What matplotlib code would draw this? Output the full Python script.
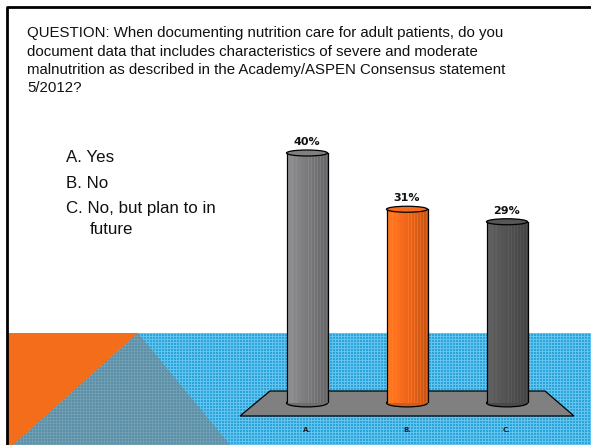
import numpy as np
import matplotlib
matplotlib.use("Agg")
import matplotlib.pyplot as plt
from matplotlib.patches import Polygon, Ellipse
import matplotlib.colors as mcolors

# ---- data ----
categories = ["A.", "B.", "C."]
values = [40, 31, 29]
value_labels = ["40%", "31%", "29%"]
answers = ["A. Yes", "B. No", "C. No, but plan to in", "future"]
question_lines = [
    "QUESTION: When documenting nutrition care for adult patients, do you",
    "document data that includes characteristics of severe and moderate",
    "malnutrition as described in the Academy/ASPEN Consensus statement",
    "5/2012?",
]
bar_colors = ["#7a7a7c", "#ea661c", "#525252"]

W, H = 591, 445
fig = plt.figure(figsize=(W / 100, H / 100), dpi=100)
fig.patch.set_facecolor("white")

# ---- background (pixel coordinates) ----
bg = fig.add_axes([0, 0, 1, 1])
bg.set_xlim(0, W)
bg.set_ylim(H, 0)
bg.axis("off")

# blue textured band
y0 = 333
hh, ww = H - y0, W - 8
tex = np.zeros((hh, ww, 3))
base = np.array(mcolors.to_rgb("#2ba4da"))
light = np.array(mcolors.to_rgb("#62c4ee"))
tex[:] = base
tex[::3, :] = light
tex[:, ::3] = light
bg.imshow(tex, extent=(8, W, H, y0), interpolation="nearest", aspect="auto", zorder=1)

# orange triangle and gray-blue triangle
bg.add_patch(Polygon([(138, y0), (230, H), (13, H)], closed=True,
                     facecolor="#7f7f7f", alpha=0.55, edgecolor="none", zorder=2))
bg.add_patch(Polygon([(8, y0), (138, y0), (13, H), (8, H)], closed=True,
                     facecolor="#f46d1b", edgecolor="none", zorder=3))

# frame lines
bg.plot([7, 7, W], [H, 7, 7], color="black", lw=2.0, solid_capstyle="butt", zorder=5)

# floor of chart
bg.add_patch(Polygon([(270, 391), (545, 391), (574, 416), (240, 416)], closed=True,
                     facecolor="#808080", edgecolor="black", lw=0.9, zorder=4))

# texts
for i, line in enumerate(question_lines):
    bg.text(27, 33 + 18.5 * i, line, fontsize=10.8, family="Liberation Sans",
            va="center", ha="left", color="#111111", zorder=6)
ans_y = [157, 183, 208, 230]
ans_x = [66, 66, 66, 90]
for a, x, y in zip(answers, ans_x, ans_y):
    bg.text(x, y, a, fontsize=12.2, family="Liberation Sans",
            va="center", ha="left", color="#111111", zorder=6)

# ---- bar chart axes ----
px_per_unit = 6.25
base_px = 403
ax = fig.add_axes([257 / W, (H - base_px) / H, 300 / W, 50 * px_per_unit / H])
ax.set_xlim(-0.5, 2.5)
ax.set_ylim(0, 50)
ax.patch.set_alpha(0)
for s in ax.spines.values():
    s.set_visible(False)
ax.set_yticks([])
ax.set_xticks(range(len(categories)))
ax.set_xticklabels(categories, fontsize=5, fontweight="bold", color="#222222")
ax.tick_params(axis="x", length=0, pad=17)

bw = 0.41
eh = 6 / px_per_unit
n = 41
t = np.linspace(0, 1, n)
shade = 1.18 - 0.35 * t
stripe = np.where((np.arange(n) % 3 == 0) & (t > 0.5), 0.12, 0.0)
stripe += np.where((np.arange(n) % 4 == 1) & (t < 0.25), 0.06, 0.0)
for i, (v, c) in enumerate(zip(values, bar_colors)):
    rgb = np.array(mcolors.to_rgb(c))
    row = np.clip(rgb[None, :] * (shade + stripe)[:, None], 0, 1)
    img = np.repeat(row[None, :, :], 2, axis=0)
    # bottom ellipse
    ax.add_patch(Ellipse((i, 0), bw, eh * 1.3, facecolor=tuple(rgb * 0.9), edgecolor="black",
                         lw=0.9, zorder=3, clip_on=False))
    ax.imshow(img, extent=(i - bw / 2, i + bw / 2, 0, v), aspect="auto",
              interpolation="nearest", zorder=4)
    ax.plot([i - bw / 2, i - bw / 2], [0, v], color="black", lw=0.9, zorder=5)
    ax.plot([i + bw / 2, i + bw / 2], [0, v], color="black", lw=0.9, zorder=5)
    ax.add_patch(Ellipse((i, v), bw, eh, facecolor=tuple(np.clip(rgb * 1.05, 0, 1)),
                         edgecolor="black", lw=0.9, zorder=6))
    ax.text(i, v + eh / 2 + 0.5, value_labels[i], ha="center", va="bottom",
            fontsize=8, fontweight="bold", family="DejaVu Sans", color="#111111", zorder=7)

fig.savefig("out.png", dpi=100)
